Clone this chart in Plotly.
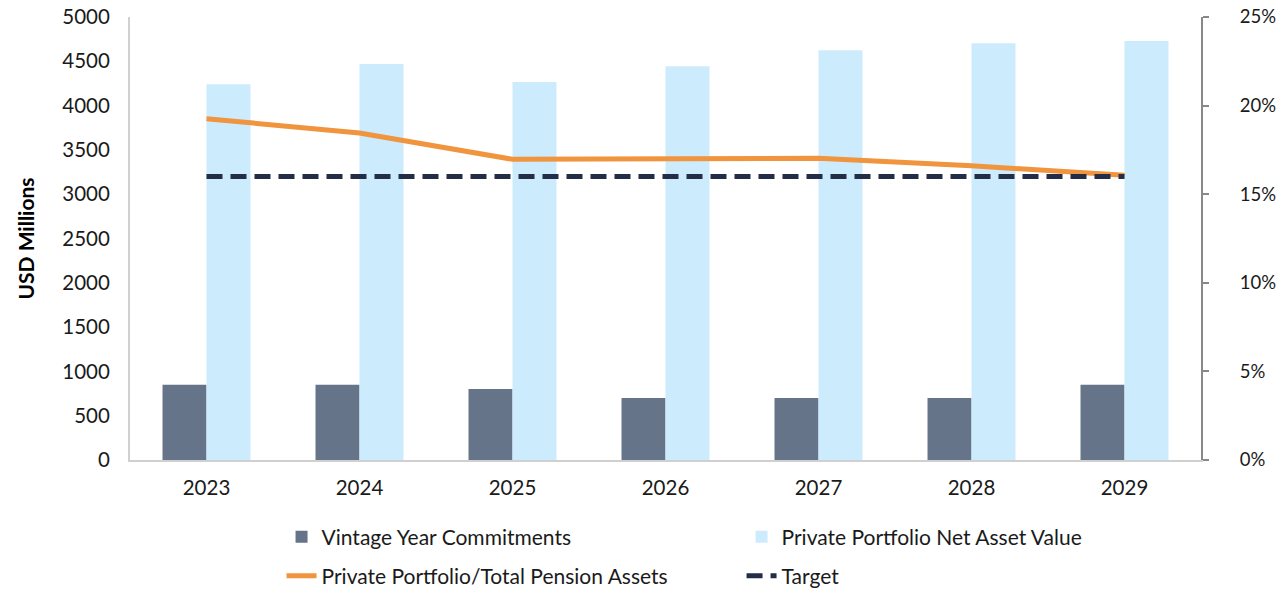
import plotly.graph_objects as go

years = ["2023", "2024", "2025", "2026", "2027", "2028", "2029"]
commitments = [850, 850, 800, 700, 700, 700, 850]
nav = [4240, 4470, 4265, 4445, 4625, 4705, 4730]
private_ratio = [0.1926, 0.1845, 0.1697, 0.1699, 0.1703, 0.1660, 0.1607]
target = [0.16, 0.16, 0.16, 0.16, 0.16, 0.16, 0.16]

FONT = "Lato"
TXT = "#1a1a1a"
TICK = 20.5
LEG = 21

fig = go.Figure()
fig.add_trace(go.Bar(x=years, y=commitments, name="Vintage Year Commitments",
                     marker=dict(color="#667489", line=dict(width=0)), legend="legend"))
fig.add_trace(go.Bar(x=years, y=nav, name="Private Portfolio Net Asset Value",
                     marker=dict(color="#CCEBFD", line=dict(width=0)), legend="legend"))
fig.add_trace(go.Scatter(x=years, y=private_ratio, name="Private Portfolio/Total Pension Assets",
                         mode="lines", line=dict(color="#F0943E", width=5),
                         yaxis="y2", legend="legend2"))
fig.add_trace(go.Scatter(x=years, y=target, name="Target",
                         mode="lines", line=dict(color="#232D47", width=5, dash="16px,8px"),
                         yaxis="y2", legend="legend2"))

fig.update_layout(
    width=1279, height=589,
    margin=dict(l=130, r=78, t=17, b=129, autoexpand=False),
    paper_bgcolor="white", plot_bgcolor="white",
    font=dict(family=FONT, size=TICK, color=TXT),
    barmode="group", bargap=0.425, bargroupgap=0,
    xaxis=dict(type="category", showline=True, linecolor="#d0d0d0", linewidth=2,
               ticks="", showgrid=False, ticklabelstandoff=8, automargin=False,
               tickfont=dict(size=TICK, color=TXT)),
    yaxis=dict(range=[0, 5000], dtick=500, showgrid=False, zeroline=False,
               showline=True, linecolor="#d0d0d0", linewidth=2, ticks="", automargin=False,
               ticklabelstandoff=14, tickfont=dict(size=TICK, color=TXT),
               title=dict(text="<b>USD Millions</b>", font=dict(size=21, color="#000"), standoff=22)),
    yaxis2=dict(range=[0, 0.25], dtick=0.05, tickformat=".0%", overlaying="y", side="right",
                showgrid=False, zeroline=False, showline=True, linecolor="#888888", linewidth=2,
                ticks="outside", ticklen=6, tickcolor="#888888", tickwidth=2, automargin=False,
                ticklabelstandoff=27, tickfont=dict(size=18.5, color=TXT)),
    legend=dict(orientation="h", x=0.1415, xanchor="left", yref="container", y=1 - 537 / 589,
                yanchor="middle",
                entrywidth=415, entrywidthmode="pixels", font=dict(size=LEG, color=TXT),
                bgcolor="rgba(0,0,0,0)", traceorder="normal"),
    legend2=dict(orientation="h", x=0.1415, xanchor="left", yref="container", y=1 - 576 / 589,
                 yanchor="middle",
                 entrywidth=415, entrywidthmode="pixels", font=dict(size=LEG, color=TXT),
                 bgcolor="rgba(0,0,0,0)", traceorder="normal"),
)

fig.write_html("out.html", config={"displayModeBar": False},
               post_script="document.body.style.margin='0';document.body.style.padding='0';"
                           "document.body.style.overflow='hidden';")
